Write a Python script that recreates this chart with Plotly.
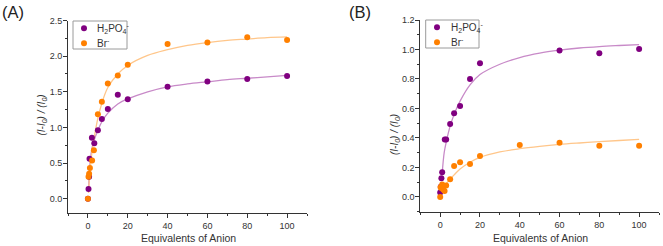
import plotly.graph_objects as go

# ---------------- data ----------------
# Panel A
a_h2po4_x = [0, 0.3, 0.6, 0.8, 2, 3.2, 5, 7, 10, 15, 20, 40, 60, 80, 100]
a_h2po4_y = [0, 0.136, 0.31, 0.56, 0.857, 0.78, 0.96, 1.12, 1.26, 1.46, 1.395, 1.57, 1.645, 1.68, 1.72]
a_br_x = [0, 0.3, 0.6, 1, 2.1, 3, 5, 7, 10, 15, 20, 40, 60, 80, 100]
a_br_y = [0, 0.31, 0.35, 0.43, 0.535, 0.68, 1.185, 1.36, 1.615, 1.73, 1.88, 2.17, 2.19, 2.265, 2.225]

a_fit_h2po4_x = [0.3, 0.6, 1, 2, 3, 5, 7, 10, 15, 20, 30, 40, 50, 60, 70, 80, 90, 100]
a_fit_h2po4_y = [0.1, 0.3, 0.48, 0.7, 0.81, 0.96, 1.08, 1.2, 1.33, 1.40, 1.50, 1.57, 1.61, 1.64, 1.67, 1.69, 1.71, 1.73]
a_fit_br_x = [0.3, 1, 2, 3, 5, 7, 10, 15, 20, 30, 40, 50, 60, 70, 80, 90, 100]
a_fit_br_y = [0.08, 0.38, 0.64, 0.83, 1.13, 1.34, 1.56, 1.75, 1.87, 2.01, 2.09, 2.15, 2.19, 2.22, 2.24, 2.26, 2.27]

# Panel B
b_h2po4_x = [0, 0.3, 0.6, 1, 2.3, 3, 5, 7, 10, 15, 20, 60, 80, 100]
b_h2po4_y = [0.03, 0.07, 0.127, 0.167, 0.39, 0.39, 0.495, 0.567, 0.617, 0.80, 0.906, 0.994, 0.975, 1.004]
b_br_x = [0, 0.2, 0.5, 1, 1.5, 2.2, 3, 5, 7, 10, 15, 20, 40, 60, 80, 100]
b_br_y = [0, 0.065, 0.06, 0.085, 0.05, 0.04, 0.077, 0.12, 0.21, 0.235, 0.224, 0.278, 0.352, 0.368, 0.348, 0.348]

b_fit_h2po4_x = [1, 2, 3, 5, 7, 10, 15, 20, 30, 40, 50, 60, 70, 80, 90, 100]
b_fit_h2po4_y = [0.16, 0.3, 0.37, 0.48, 0.56, 0.65, 0.76, 0.83, 0.9, 0.945, 0.975, 0.995, 1.01, 1.02, 1.027, 1.033]
b_fit_br_x = [1, 2, 3, 5, 7, 10, 15, 20, 30, 40, 50, 60, 70, 80, 90, 100]
b_fit_br_y = [0.05, 0.07, 0.09, 0.12, 0.15, 0.19, 0.235, 0.268, 0.305, 0.327, 0.343, 0.356, 0.366, 0.375, 0.383, 0.39]

x_ticks = [0, 20, 40, 60, 80, 100]
a_y_ticks = [0.0, 0.5, 1.0, 1.5, 2.0, 2.5]
b_y_ticks = [0.0, 0.2, 0.4, 0.6, 0.8, 1.0, 1.2]

label_h2po4 = "H<sub>2</sub>PO<sub>4</sub><sup>-</sup>"
label_br = "Br<sup>-</sup>"
x_title = "Equivalents of Anion"
y_title = "<i>(I-I<sub>0</sub>) / (I<sub>0</sub>)</i>"

# ---------------- style ----------------
W, H = 663, 246
PURPLE = "#800080"
ORANGE = "#FF8000"
PURPLE_L = "#C88AC8"
ORANGE_L = "#FFC68A"
AXC = "#333333"
FONT = "Liberation Sans, Arial, sans-serif"

fig = go.Figure()

def add_panel(xa, ya, px, py, bx, by, fpx, fpy, fbx, fby):
    fig.add_trace(go.Scatter(x=fpx, y=fpy, mode="lines", line=dict(color=PURPLE_L, width=1.3, shape="spline"),
                             xaxis=xa, yaxis=ya, showlegend=False, hoverinfo="skip"))
    fig.add_trace(go.Scatter(x=fbx, y=fby, mode="lines", line=dict(color=ORANGE_L, width=1.3, shape="spline"),
                             xaxis=xa, yaxis=ya, showlegend=False, hoverinfo="skip"))
    fig.add_trace(go.Scatter(x=px, y=py, mode="markers", name=label_h2po4, showlegend=False,
                             marker=dict(color=PURPLE, size=6), xaxis=xa, yaxis=ya))
    fig.add_trace(go.Scatter(x=bx, y=by, mode="markers", name=label_br, showlegend=False,
                             marker=dict(color=ORANGE, size=6), xaxis=xa, yaxis=ya))

add_panel("x", "y", a_h2po4_x, a_h2po4_y, a_br_x, a_br_y,
          a_fit_h2po4_x, a_fit_h2po4_y, a_fit_br_x, a_fit_br_y)
add_panel("x2", "y2", b_h2po4_x, b_h2po4_y, b_br_x, b_br_y,
          b_fit_h2po4_x, b_fit_h2po4_y, b_fit_br_x, b_fit_br_y)

common_x = dict(range=[-10, 110], tickvals=x_ticks, ticks="outside", ticklen=4, tickwidth=1,
                tickcolor=AXC, showline=True, linecolor=AXC, linewidth=1, showgrid=False, zeroline=False,
                automargin=False,
                tickfont=dict(size=9, color=AXC, family=FONT),
                minor=dict(dtick=10, tick0=0, ticks="outside", ticklen=2, tickcolor=AXC, showgrid=False))
common_y = dict(ticks="outside", ticklen=4, tickwidth=1, tickcolor=AXC, showline=True, linecolor=AXC,
                linewidth=1, showgrid=False, zeroline=False, automargin=False, ticklabelstandoff=-1,
                tickfont=dict(size=9, color=AXC, family=FONT))

# manual legends (box, markers, labels) and titles in paper pixels
shapes = []
annotations = []
def px2x(v): return v / W
def px2y(v): return 1 - v / H

def legend_box(x0, y0, x1, y1, mx, my1, my2, tx):
    shapes.append(dict(type="rect", xref="paper", yref="paper", x0=px2x(x0), x1=px2x(x1),
                       y0=px2y(y1), y1=px2y(y0), line=dict(color="#9a9a9a", width=1), fillcolor="white", layer="above"))
    for my, col, lab in [(my1, PURPLE, label_h2po4), (my2, ORANGE, label_br)]:
        shapes.append(dict(type="circle", xref="paper", yref="paper", x0=px2x(mx - 3), x1=px2x(mx + 3),
                           y0=px2y(my + 3), y1=px2y(my - 3), line=dict(color=col, width=0), fillcolor=col, layer="above"))
        annotations.append(dict(text=lab, x=px2x(tx), y=px2y(my), xref="paper", yref="paper", xanchor="left",
                                yanchor="middle", showarrow=False, font=dict(size=10, color=AXC, family=FONT)))

legend_box(73, 21, 127, 49, 84, 28.3, 43.3, 95.5)
legend_box(425.7, 20, 479, 48, 437, 27.3, 42.3, 448.5)

def text_at(txt, x, y, size, angle=0, color=AXC):
    annotations.append(dict(text=txt, x=px2x(x), y=px2y(y), xref="paper", yref="paper", xanchor="center",
                            yanchor="middle", showarrow=False, textangle=angle,
                            font=dict(size=size, color=color, family=FONT)))

text_at(x_title, 188, 238, 10.5)
text_at(x_title, 540.5, 238, 10.5)
text_at(y_title, 41.5, 115, 10, angle=-90)
text_at(y_title, 395, 135, 10, angle=-90)

annotations += [
    dict(text="(A)", x=0, y=1 - 1/H, xref="paper", yref="paper", xanchor="left", yanchor="top",
         showarrow=False, font=dict(size=16.5, color="#222222", family=FONT)),
    dict(text="(B)", x=347/W, y=1 - 1/H, xref="paper", yref="paper", xanchor="left", yanchor="top",
         showarrow=False, font=dict(size=16.5, color="#222222", family=FONT)),
]

fig.update_layout(
    width=W, height=H, margin=dict(l=0, r=0, t=0, b=0, autoexpand=False),
    paper_bgcolor="white", plot_bgcolor="white",
    font=dict(family=FONT, color=AXC),
    showlegend=False,
    xaxis=dict(domain=[68/W, 307/W], anchor="y", **common_x),
    yaxis=dict(domain=[1-213/H, 1-20.5/H], anchor="x", range=[-0.2, 2.5], tickvals=a_y_ticks,
               tickformat=".1f", minor=dict(dtick=0.25, tick0=0, ticks="outside", ticklen=2, tickcolor=AXC, showgrid=False),
               **common_y),
    xaxis2=dict(domain=[420.3/W, 659/W], anchor="y2", **common_x),
    yaxis2=dict(domain=[1-211.7/H, 1-20/H], anchor="x2", range=[-0.1, 1.2], tickvals=b_y_ticks,
                tickformat=".1f", minor=dict(dtick=0.1, tick0=0, ticks="outside", ticklen=2, tickcolor=AXC, showgrid=False),
                **common_y),
    shapes=shapes,
    annotations=annotations,
)

fig.write_html("out.html", config={"displayModeBar": False},
               post_script="document.body.style.margin='0';document.body.style.padding='0';")
